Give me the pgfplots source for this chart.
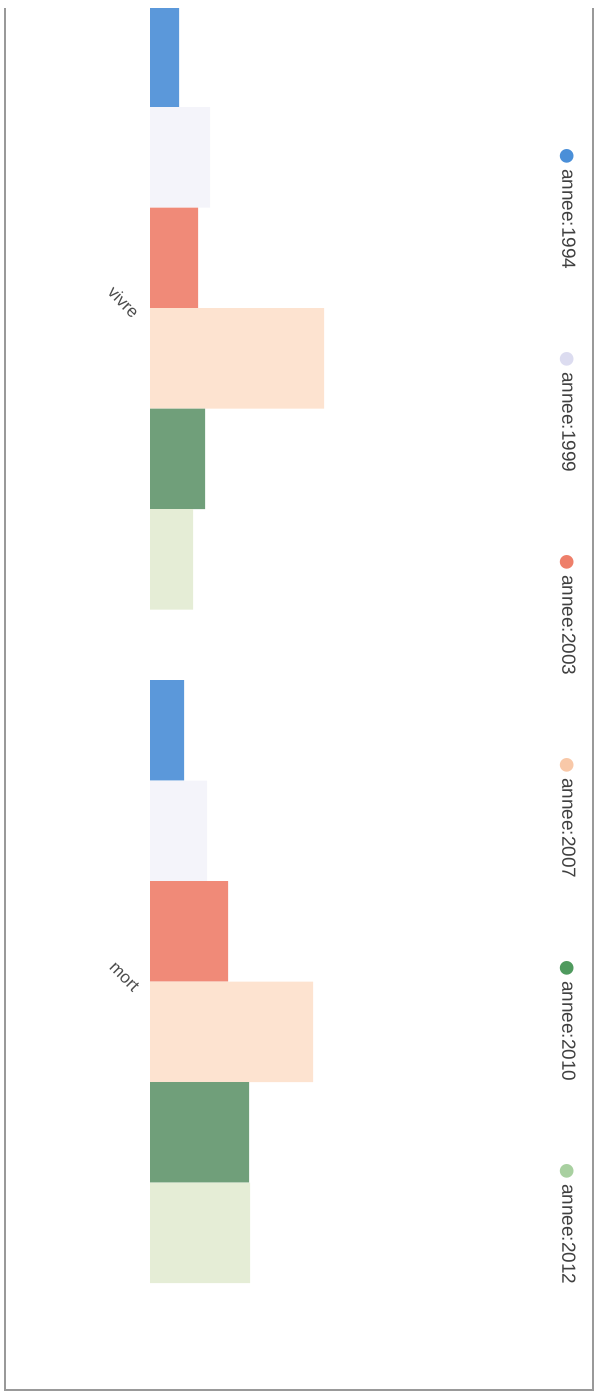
\documentclass[border=0pt]{standalone}
\usepackage{pgfplots}
\pgfplotsset{compat=1.18}
\usepackage{fontspec}
\setmainfont{Liberation Sans}
\newfontfamily\dejavu{DejaVu Sans}
\definecolor{c1994}{HTML}{5B98DA}
\definecolor{c1999}{HTML}{F4F4FA}
\definecolor{c2003}{HTML}{F08A78}
\definecolor{c2007}{HTML}{FDE3D0}
\definecolor{c2010}{HTML}{709F7A}
\definecolor{c2012}{HTML}{E5EDD6}
\definecolor{l1994}{HTML}{4A8FD8}
\definecolor{l1999}{HTML}{DCDCF0}
\definecolor{l2003}{HTML}{EE7F6A}
\definecolor{l2007}{HTML}{F8C8A8}
\definecolor{l2010}{HTML}{4F9A5E}
\definecolor{l2012}{HTML}{A8D0A0}
\newcommand{\lentry}[2]{\rotatebox{-90}{{\dejavu\fontsize{9}{9}\selectfont\textcolor{#1}{●}}\hspace{2.5pt}#2}}
\begin{document}
\begin{tikzpicture}
\useasboundingbox (0,0) rectangle (298pt,-696.5pt);
\draw[gray!80, line width=1pt] (2.5pt,-4pt) -- (2.5pt,-695pt) -- (296.5pt,-695pt) -- (296.5pt,-4pt);
\begin{axis}[
  at={(75pt,-4pt)}, anchor=north west,
  x=0.5pt, y=0.5pt, y dir=reverse,
  xmin=0, xmax=440, ymin=8, ymax=1388,
  axis line style={draw=none}, tick style={draw=none},
  xtick=\empty,
  ytick={308,981.5}, yticklabels={vivre,mort},
  yticklabel style={yshift=-6pt, rotate=-45, anchor=east, font=\fontsize{8.5}{10}\selectfont, text=black!70},
  xbar, bar width=50.25pt,
  legend columns=1,
  legend image code/.code={},
  legend style={at={(axis cs:418,140)}, anchor=north, draw=none, fill=none,
    row sep=96pt, font=\fontsize{9.5}{11}\selectfont, text=black!75},
]
\addplot[fill=c1994, draw=none, bar shift=125.625pt] coordinates {(29,308) (34,981.5)};
\addplot[fill=c1999, draw=none, bar shift=75.375pt] coordinates {(60,308) (57,981.5)};
\addplot[fill=c2003, draw=none, bar shift=25.125pt] coordinates {(48,308) (78,981.5)};
\addplot[fill=c2007, draw=none, bar shift=-25.125pt] coordinates {(174,308) (163,981.5)};
\addplot[fill=c2010, draw=none, bar shift=-75.375pt] coordinates {(55,308) (99,981.5)};
\addplot[fill=c2012, draw=none, bar shift=-125.625pt] coordinates {(43,308) (100,981.5)};
\legend{\lentry{l1994}{annee:1994},\lentry{l1999}{annee:1999},\lentry{l2003}{annee:2003},\lentry{l2007}{annee:2007},\lentry{l2010}{annee:2010},\lentry{l2012}{annee:2012}}
\end{axis}
\end{tikzpicture}
\end{document}
